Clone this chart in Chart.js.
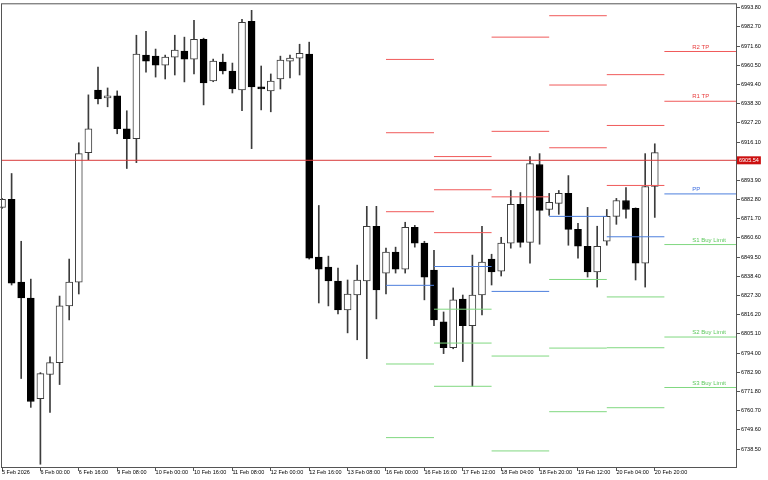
<!DOCTYPE html>
<html>
<head>
<meta charset="utf-8">
<script src="https://cdn.jsdelivr.net/npm/chart.js@4.4.1/dist/chart.umd.min.js"></script>
<style>
  html, body { margin:0; padding:0; background:#fff; }
</style>
</head>
<body>
<canvas id="chart" width="768" height="480"></canvas>
<script>
/* ── H4 candles + daily pivot levels ── */

// 4H bars, index 0 = 5 Feb 2026
const opens  = [6878.3,6882.9,6835.1,6825.9,6767.7,6781.6,6788.5,6821.3,6835.1,6910.0,
                6946.2,6941.6,6942.8,6923.8,6918.0,6966.4,6965.8,6960.6,6965.2,6968.7,
                6964.1,6975.6,6951.4,6962.4,6957.2,6946.2,6986.0,6948.0,6945.7,6952.6,
                6962.9,6964.7,6967.0,6849.5,6843.7,6835.7,6819.0,6827.6,6835.7,6867.4,
                6840.3,6852.4,6842.6,6866.8,6857.6,6842.0,6812.1,6797.1,6825.3,6809.8,
                6827.6,6848.4,6841.4,6857.6,6880.0,6858.1,6903.1,6877.1,6880.6,6886.4,
                6865.6,6855.8,6840.9,6858.7,6873.1,6882.3,6877.7,6846.1,6890.4];
const highs  = [6883.5,6897.9,6858.7,6836.8,6782.7,6791.9,6827.0,6848.4,6915.7,6943.4,
                6959.5,6947.4,6945.7,6934.2,6977.9,6980.2,6969.9,6966.4,6977.9,6976.8,
                6986.5,6976.2,6964.1,6967.0,6961.8,6987.1,6992.3,6960.1,6955.5,6965.8,
                6966.4,6972.7,6973.9,6879.4,6850.1,6843.2,6836.3,6844.9,6878.9,6878.9,
                6854.7,6855.3,6869.7,6867.9,6858.7,6853.5,6817.8,6831.7,6827.6,6850.7,
                6867.4,6851.2,6861.0,6888.1,6886.9,6907.7,6909.4,6886.4,6888.1,6896.7,
                6869.1,6878.3,6867.4,6877.1,6883.5,6889.8,6878.0,6909.4,6915.1];
const lows   = [6877.7,6833.4,6779.3,6762.6,6729.7,6759.7,6775.8,6813.2,6828.2,6905.9,
                6938.2,6936.5,6920.9,6900.8,6904.2,6956.6,6953.7,6952.6,6954.9,6950.9,
                6955.5,6937.6,6951.0,6955.5,6944.5,6934.2,6912.3,6934.7,6933.6,6946.8,
                6953.2,6954.9,6848.4,6823.0,6821.3,6816.7,6805.7,6801.7,6790.8,6813.8,
                6828.2,6840.3,6840.3,6855.3,6824.8,6809.8,6793.7,6796.5,6789.1,6774.7,
                6816.1,6833.4,6838.6,6854.7,6855.3,6846.1,6857.0,6873.7,6874.3,6856.4,
                6848.9,6838.0,6832.2,6856.4,6868.5,6872.0,6836.3,6832.2,6872.5];
const closes = [6882.9,6834.5,6825.9,6766.0,6782.1,6788.5,6821.3,6835.1,6909.4,6923.8,
                6941.1,6942.8,6923.8,6918.0,6967.0,6962.9,6960.6,6965.2,6969.3,6964.1,
                6975.6,6950.3,6962.9,6957.2,6946.8,6985.4,6948.0,6946.8,6951.4,6963.5,
                6964.7,6967.5,6848.9,6842.6,6835.7,6819.0,6828.2,6836.3,6867.4,6830.5,
                6852.4,6842.6,6866.8,6857.6,6838.0,6813.2,6797.1,6824.8,6809.8,6827.6,
                6846.6,6840.9,6857.6,6880.0,6858.1,6903.6,6876.6,6881.2,6886.4,6865.6,
                6855.8,6840.9,6855.8,6873.1,6882.3,6877.1,6846.1,6890.4,6910.0];

// one time label every 4 bars
const timeLabels = ['5 Feb 2026','6 Feb 00:00','6 Feb 16:00','9 Feb 08:00','10 Feb 00:00',
                    '10 Feb 16:00','11 Feb 08:00','12 Feb 00:00','12 Feb 16:00','13 Feb 08:00',
                    '16 Feb 00:00','16 Feb 16:00','17 Feb 12:00','18 Feb 04:00','18 Feb 20:00',
                    '19 Feb 12:00','20 Feb 04:00','20 Feb 20:00'];

const priceTicks = [6738.50,6749.60,6760.70,6771.80,6782.90,6794.00,6805.10,6816.20,
                    6827.30,6838.40,6849.50,6860.60,6871.70,6882.80,6893.90,6916.10,
                    6927.20,6938.30,6949.40,6960.50,6971.60,6982.70,6993.80];

const lastPrice = 6905.54;

// daily pivots: bar where each day's levels start / stop
const pivotStart = [40, 45, 51, 57, 63, 69];
const pivotEnd   = [45, 51, 57, 63, 69, 76.5];
const pivR3 = [6963.9, 6907.7, 6976.8, 6989.2, 6955.1, null];
const pivR2 = [6921.5, 6888.5, 6922.3, 6949.1, 6925.7, 6968.5];
const pivR1 = [6875.8, 6863.7, 6884.4, 6912.8, 6891.0, 6939.7];
const pivPP = [6833.2, 6844.1, 6829.7, 6873.1, 6861.3, 6886.1];
const pivS1 = [6787.7, 6819.4, 6792.3, 6836.6, 6826.5, 6856.8];
const pivS2 = [6745.1, 6799.8, 6737.4, 6796.9, 6797.1, 6803.3];
const pivS3 = [null,   6774.8, null,   6760.1, 6762.4, 6774.1];
const pivotNames = ['R2 TP', 'R1 TP', 'PP', 'S1 Buy Limit', 'S2 Buy Limit', 'S3 Buy Limit'];

const X_MIN = 0, X_MAX = 76.46;
const RED = '#f05a5a', BLUE = '#4d7fdd', GREEN = '#80d880';
const FONT = { family: 'Liberation Sans', size: 5.5 };

/* ── build datasets ── */
const idx    = opens.map((_, i) => i);
const bodies = idx.map(i => ({ x: i, y: [opens[i], closes[i]] }));
const wicks  = idx.map(i => ({ x: i, y: [lows[i], highs[i]] }));
const isUp   = i => closes[i] >= opens[i];

function segLine(levels) {
  const pts = [];
  levels.forEach((v, k) => {
    if (v == null) return;
    pts.push({ x: pivotStart[k], y: v }, { x: pivotEnd[k], y: v }, { x: pivotEnd[k], y: null });
  });
  return pts;
}
const lvl = (data, color) => ({
  type: 'line', data: segLine(data), borderColor: color, borderWidth: 1,
  pointRadius: 0, order: 0, spanGaps: false,
});

/* ── plugins ── */
const frame = {
  id: 'frame',
  afterDraw(chart) {
    const { ctx, chartArea: a } = chart;
    ctx.save();
    ctx.strokeStyle = '#555';
    ctx.lineWidth = 1;
    ctx.strokeRect(a.left - 0.5, a.top - 0.5, a.right - a.left + 1, a.bottom - a.top + 1);
    ctx.restore();
  }
};

const priceTag = {
  id: 'priceTag',
  afterDraw(chart) {
    const { ctx, chartArea: a, scales: { y } } = chart;
    const py = y.getPixelForValue(lastPrice);
    const txt = lastPrice.toFixed(2);
    ctx.save();
    ctx.font = `${FONT.size}px "${FONT.family}"`;
    const w = ctx.measureText(txt).width;
    ctx.fillStyle = '#cc1010';
    ctx.fillRect(a.right + 1, py - 4, w + 4, 8);
    ctx.fillStyle = '#fff';
    ctx.textBaseline = 'middle';
    ctx.fillText(txt, a.right + 3, py + 0.5);
    ctx.restore();
  }
};

const pivotText = {
  id: 'pivotText',
  afterDatasetsDraw(chart) {
    const { ctx, scales: { x, y } } = chart;
    const k = pivotStart.length - 1;
    const vals = [pivR2[k], pivR1[k], pivPP[k], pivS1[k], pivS2[k], pivS3[k]];
    const cols = ['#e83c3c', '#e83c3c', '#3f6fe0', '#5cc85c', '#5cc85c', '#5cc85c'];
    const px = x.getPixelForValue(71.9);
    ctx.save();
    ctx.font = `6px "${FONT.family}"`;
    ctx.textBaseline = 'bottom';
    vals.forEach((v, i) => {
      ctx.fillStyle = cols[i];
      ctx.fillText(pivotNames[i], px, y.getPixelForValue(v) - 1.5);
    });
    ctx.restore();
  }
};

/* ── chart ── */
new Chart(document.getElementById('chart'), {
  type: 'bar',
  data: {
    datasets: [
      lvl(pivR3, RED), lvl(pivR2, RED), lvl(pivR1, RED),
      lvl(pivPP, BLUE),
      lvl(pivS1, GREEN), lvl(pivS2, GREEN), lvl(pivS3, GREEN),
      {
        type: 'line', label: 'Price',
        data: [{ x: X_MIN, y: lastPrice }, { x: X_MAX, y: lastPrice }],
        borderColor: '#d83a3a', borderWidth: 1, pointRadius: 0, order: 0,
      },
      {
        label: 'Body', data: bodies, order: 1, grouped: false, clip: false,
        barThickness: 7, minBarLength: 1, borderSkipped: false, borderWidth: 1,
        backgroundColor: idx.map(i => isUp(i) ? '#ffffff' : '#000000'),
        borderColor: idx.map(i => isUp(i) ? '#3c3c3c' : '#000000'),
      },
      {
        label: 'Wick', data: wicks, order: 2, grouped: false, clip: false,
        barThickness: 1, borderWidth: 0, backgroundColor: '#3c3c3c',
      },
    ]
  },
  options: {
    responsive: false,
    animation: false,
    devicePixelRatio: 1,
    layout: { padding: { left: 2, top: 2, right: 0, bottom: 0 } },
    plugins: { legend: { display: false }, tooltip: { enabled: false } },
    scales: {
      x: {
        type: 'linear', min: X_MIN, max: X_MAX, offset: false,
        grid: { offset: false, drawOnChartArea: false, drawTicks: true, tickLength: 4, color: '#555' },
        border: { display: false },
        ticks: {
          align: 'start', padding: -2, autoSkip: false, maxRotation: 0, minRotation: 0,
          color: '#000', font: FONT,
          callback: v => timeLabels[v / 4] ?? '',
        },
        afterBuildTicks: s => { s.ticks = timeLabels.map((_, k) => ({ value: k * 4 })); },
        afterFit: s => { s.height = 13; },
      },
      y: {
        type: 'linear', position: 'right', min: 6728.1, max: 6995.8, beginAtZero: false,
        grid: { drawOnChartArea: false, drawTicks: true, tickLength: 4, color: '#555' },
        border: { display: false },
        ticks: { padding: 1, color: '#000', font: FONT, callback: v => v.toFixed(2) },
        afterBuildTicks: s => { s.ticks = priceTicks.map(v => ({ value: v })); },
        afterFit: s => { s.width = 32; },
      },
    }
  },
  plugins: [frame, priceTag, pivotText]
});
</script>
</body>
</html>
